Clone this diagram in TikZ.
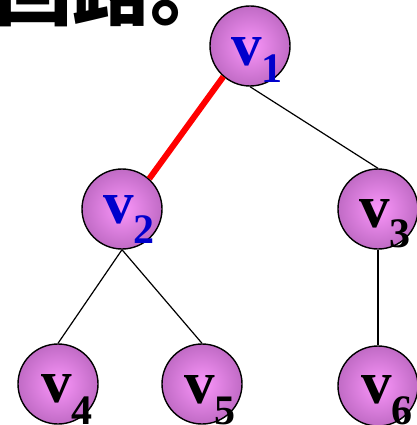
\documentclass[tikz,border=0pt]{standalone}
\usepackage{fontspec}
\setmainfont{Liberation Serif}
\newfontfamily\cjk{Noto Sans CJK SC}
\definecolor{ballin}{RGB}{250,150,250}
\definecolor{ballmid}{RGB}{190,105,195}
\definecolor{ballout}{RGB}{112,55,120}
\definecolor{vblue}{RGB}{0,0,204}
\pgfdeclareradialshading{ballshade}{\pgfpoint{0bp}{0bp}}{color(0bp)=(ballin); color(26bp)=(ballmid); color(50bp)=(ballout); color(52bp)=(ballout)}
\newcommand{\dig}[2]{\raisebox{-#1pt}{\fontsize{42}{42}\selectfont #2}}
\begin{document}
\begin{tikzpicture}[x=1pt,y=-1pt,
  ball/.style={circle, draw=black, line width=1.4pt, minimum size=80pt, inner sep=0pt, shading=ballshade},
  edgeline/.style={line width=1.2pt, black},
  redline/.style={line width=6pt, red},
  vl/.style={inner sep=0pt, anchor=base west, font=\fontsize{61}{61}\selectfont\bfseries}]
\useasboundingbox (0,0) rectangle (416,425);
\node[anchor=base west, inner sep=0pt, font=\cjk\bfseries\fontsize{78}{78}\selectfont] (title) at (-6,20) {回路。};
\node[ball] (v1) at (250,46) {};
\node[ball] (v2) at (122,209) {};
\node[ball] (v3) at (378,209) {};
\node[ball] (v4) at (58,384) {};
\node[ball] (v5) at (202,384) {};
\node[ball] (v6) at (378,386) {};
\draw[redline] (v1.229) -- (v2.48);
\draw[edgeline] (v1.south) -- (v3.north);
\draw[edgeline] (v2.south) -- (v4.north);
\draw[edgeline] (v2.south) -- (v5.north);
\draw[edgeline] (v3.south) -- (v6.north);
\node[vl, text=vblue] (l1) at (231,66) {v\dig{17}{1}};
\node[vl, text=vblue] (l2) at (103,223) {v\dig{20}{2}};
\node[vl] (l3) at (359,227) {v\dig{20}{3}};
\node[vl] (l4) at (41,402) {v\dig{22}{4}};
\node[vl] (l5) at (184,403) {v\dig{21}{5}};
\node[vl] (l6) at (361,403) {v\dig{21}{6}};
\end{tikzpicture}
\end{document}
